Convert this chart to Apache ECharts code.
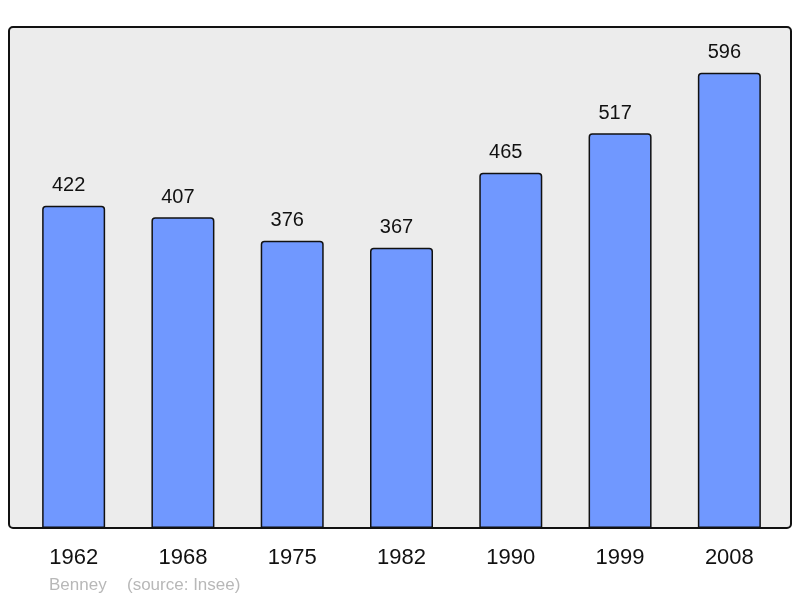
<!DOCTYPE html>
<html>
<head>
<meta charset="utf-8">
<script src="https://cdn.jsdelivr.net/npm/echarts@6/dist/echarts.min.js"></script>
<style>
  html, body { margin: 0; padding: 0; background: #fff; }
  #chart { width: 800px; height: 598px; }
</style>
</head>
<body>
<div id="chart"></div>
<script>
// population by census year
const years = ['1962', '1968', '1975', '1982', '1990', '1999', '2008'];
const population = [422, 407, 376, 367, 465, 517, 596];

const chart = echarts.init(document.getElementById('chart'));

chart.setOption({
  animation: false,
  backgroundColor: '#ffffff',
  textStyle: { fontFamily: 'Liberation Sans, Arial, sans-serif' },
  grid: { left: 19, width: 765, top: 27, height: 501 },
  graphic: [
    {
      type: 'rect',
      z: -10,
      shape: { x: 9, y: 27, width: 782, height: 501, r: 4 },
      style: { fill: '#ececec', stroke: '#111', lineWidth: 2 }
    },
    {
      type: 'text',
      left: 49,
      top: 577,
      style: { text: 'Benney', fill: '#b8b8b8', font: '17px Liberation Sans, Arial, sans-serif' }
    },
    {
      type: 'text',
      left: 127,
      top: 577,
      style: { text: '(source: Insee)', fill: '#b8b8b8', font: '17px Liberation Sans, Arial, sans-serif' }
    }
  ],
  xAxis: {
    type: 'category',
    data: years,
    axisLine: { show: false },
    axisTick: { show: false },
    axisLabel: { color: '#111', fontSize: 22, margin: 19 }
  },
  yAxis: {
    type: 'value',
    min: 0,
    max: 656,
    show: false,
    splitLine: { show: false }
  },
  series: [{
    type: 'bar',
    data: population,
    barWidth: 63,
    itemStyle: {
      color: '#7098ff',
      borderColor: '#111',
      borderWidth: 1.5,
      borderRadius: [3, 3, 0, 0]
    },
    label: {
      show: true,
      position: 'top',
      distance: 10,
      offset: [-5, 0],
      color: '#111',
      fontSize: 20
    }
  }]
});
</script>
</body>
</html>
